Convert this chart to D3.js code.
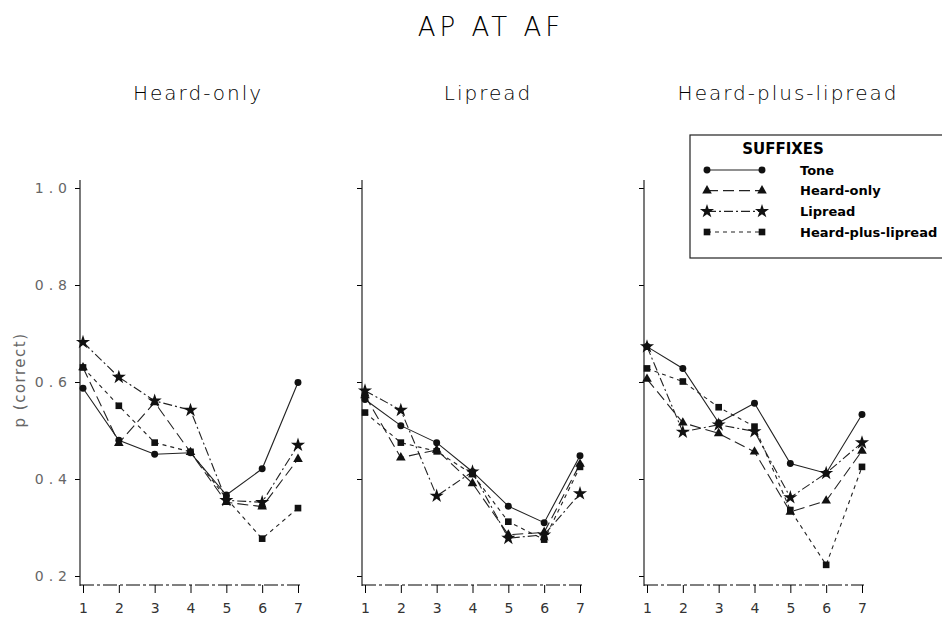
<!DOCTYPE html>
<html>
<head>
<meta charset="utf-8">
<script src="https://cdn.jsdelivr.net/npm/d3@7"></script>
<style>
body { margin: 0; background: #fff; }
svg text { font-family: "DejaVu Sans", sans-serif; }
</style>
</head>
<body>
<svg id="chart" width="942" height="624"></svg>
<script>
const positions = [1, 2, 3, 4, 5, 6, 7]
const yTicks = [0.2, 0.4, 0.6, 0.8, 1.0]
const panelTitles = ["Heard-only", "Lipread", "Heard-plus-lipread"]
const seriesNames = ["Tone", "Heard-only", "Lipread", "Heard-plus-lipread"]

// each panel: tone, heard-only, lipread, heard-plus-lipread
const heardOnlyPanel = [
    [0.587, 0.480, 0.451, 0.454, 0.367, 0.421, 0.599],
    [0.630, 0.474, 0.558, 0.455, 0.352, 0.343, 0.441],
    [0.682, 0.610, 0.561, 0.542, 0.356, 0.352, 0.470],
    [0.630, 0.551, 0.475, 0.456, 0.360, 0.277, 0.340]
]
const lipreadPanel = [
    [0.564, 0.510, 0.475, 0.415, 0.344, 0.310, 0.448],
    [0.572, 0.444, 0.460, 0.391, 0.285, 0.290, 0.431],
    [0.582, 0.542, 0.365, 0.415, 0.278, 0.285, 0.370],
    [0.537, 0.475, 0.457, 0.410, 0.312, 0.275, 0.425]
]
const heardPlusPanel = [
    [0.673, 0.628, 0.516, 0.556, 0.432, 0.412, 0.533],
    [0.606, 0.516, 0.494, 0.456, 0.332, 0.355, 0.458],
    [0.673, 0.497, 0.512, 0.498, 0.362, 0.412, 0.475],
    [0.628, 0.601, 0.548, 0.508, 0.336, 0.223, 0.425]
]
const panels = [heardOnlyPanel, lipreadPanel, heardPlusPanel]

const dashes = [null, "11,5", "9,3,2,3", "4,4"]
const symbols = [d3.symbolCircle, d3.symbolTriangle, d3.symbolStar, d3.symbolSquare]
const symbolSizes = [38, 40, 62, 44]

smallMultiples = function(svg)
{
    this.svg = svg
    this.left = [80, 362, 644]
    this.y = d3.scaleLinear().domain([0.2, 1.0]).range([576, 188])
    this.drawTitles()
    panels.forEach((p, i) => this.drawPanel(p, i))
    this.drawLegend()
}

smallMultiples.prototype.drawTitles = function()
{
    this.svg.append("text").attr("x", 491).attr("y", 36)
        .attr("text-anchor", "middle").attr("font-size", 26).attr("font-weight", 300)
        .attr("letter-spacing", 4).text("AP AT AF")
    let centers = [198, 488, 788]
    panelTitles.forEach((t, i) => {
        this.svg.append("text").attr("x", centers[i]).attr("y", 100)
            .attr("text-anchor", "middle").attr("font-size", 20).attr("font-weight", 300)
            .attr("letter-spacing", 2).text(t)
    })
    this.svg.append("text")
        .attr("transform", "translate(25,380) rotate(-90)")
        .attr("text-anchor", "middle").attr("font-size", 15).attr("fill", "#666")
        .attr("letter-spacing", 1.5).text("p (correct)")
}

smallMultiples.prototype.drawPanel = function(data, i)
{
    let x0 = this.left[i]
    let x = d3.scaleLinear().domain([1, 7]).range([x0 + 3, x0 + 218])
    let g = this.svg.append("g")

    let yAxis = d3.axisLeft(this.y).tickValues(yTicks).tickSize(5)
        .tickFormat(i == 0 ? d3.format(".1f") : "")
    g.append("g").attr("transform", `translate(${x0},0)`).call(yAxis)
        .call(a => a.select(".domain").remove())
        .call(a => a.selectAll("text").attr("font-size", 14).attr("fill", "#666")
            .attr("letter-spacing", 5).attr("dx", 0))
    g.append("line").attr("x1", x0).attr("x2", x0).attr("y1", 180).attr("y2", 586)
        .attr("stroke", "#222").attr("stroke-width", 1.2)

    let xAxis = d3.axisBottom(x).tickValues(positions).tickSize(8).tickFormat(d3.format("d"))
    g.append("g").attr("transform", "translate(0,585)").call(xAxis)
        .call(a => a.select(".domain").attr("d", `M${x0},0H${x0 + 220}`).attr("stroke-dasharray", "14,3,3,3"))
        .call(a => a.selectAll("text").attr("font-size", 14).attr("fill", "#333").attr("dy", 17))

    let line = d3.line().x((d, k) => x(positions[k])).y(d => this.y(d))
    data.forEach((vals, s) => {
        g.append("path").datum(vals).attr("d", line)
            .attr("fill", "none").attr("stroke", "#222").attr("stroke-width", 1.1)
            .attr("stroke-dasharray", dashes[s])
    })
    data.forEach((vals, s) => {
        g.selectAll(null).data(vals).enter().append("path")
            .attr("d", d3.symbol(symbols[s], symbolSizes[s]))
            .attr("transform", (d, k) => `translate(${x(positions[k])},${this.y(d)})`)
            .attr("fill", "#111")
    })
}

smallMultiples.prototype.drawLegend = function()
{
    let lg = this.svg.append("g")
    lg.append("rect").attr("x", 690).attr("y", 135).attr("width", 270).attr("height", 123)
        .attr("fill", "#fff").attr("stroke", "#222").attr("stroke-width", 1.2)
    lg.append("text").attr("x", 783).attr("y", 154).attr("text-anchor", "middle")
        .attr("font-size", 15).attr("font-weight", "bold").text("SUFFIXES")
    let rowY = d3.scalePoint().domain(seriesNames).range([170, 232])
    seriesNames.forEach((name, s) => {
        let yy = rowY(name)
        lg.append("line").attr("x1", 707).attr("x2", 762).attr("y1", yy).attr("y2", yy)
            .attr("stroke", "#222").attr("stroke-width", 1.1).attr("stroke-dasharray", dashes[s])
        ;[707, 762].forEach(xx => {
            lg.append("path").attr("d", d3.symbol(symbols[s], symbolSizes[s]))
                .attr("transform", `translate(${xx},${yy})`).attr("fill", "#111")
        })
        lg.append("text").attr("x", 800).attr("y", yy + 4.5).attr("font-size", 13)
            .attr("font-weight", "bold").text(name)
    })
}

new smallMultiples(d3.select("#chart"))
</script>
</body>
</html>
